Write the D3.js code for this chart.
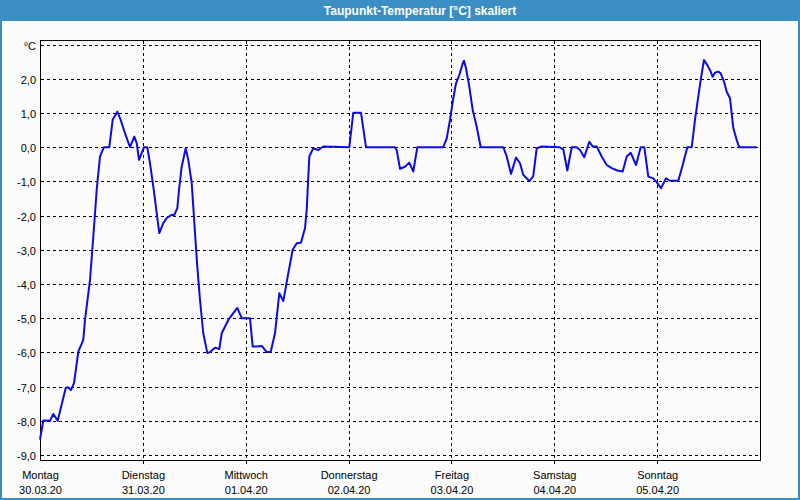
<!DOCTYPE html>
<html>
<head>
<meta charset="utf-8">
<script src="https://cdn.jsdelivr.net/npm/d3@7"></script>
<style>
  html, body { margin: 0; padding: 0; background: #fbfcfb; }
  svg { display: block; }
</style>
</head>
<body>
<svg id="chart" width="800" height="500"></svg>
<script>
// ---- data ----
const title = "Taupunkt-Temperatur [°C] skaliert";
const dayNames = ["Montag", "Dienstag", "Mittwoch", "Donnerstag", "Freitag", "Samstag", "Sonntag"];
const dayDates = ["30.03.20", "31.03.20", "01.04.20", "02.04.20", "03.04.20", "04.04.20", "05.04.20"];
const dayStartHours = [0, 24, 48, 72, 96, 120, 144];
const yTicks = [-9, -8, -7, -6, -5, -4, -3, -2, -1, 0, 1, 2, 3];
const unitLabel = "°C";
// time in hours since Monday 00:00
const hours = [0, 0.77, 2.33, 3.10, 4.13, 6.00, 6.53, 7.23, 7.93, 8.94, 10.10, 10.50, 11.67, 12.44, 13.23, 14.00, 14.93, 16.17, 16.96, 18.04, 18.83, 19.83, 21.00, 22.00, 22.56, 23.10, 24.27, 25.04, 25.67, 26.44, 27.23, 27.84, 28.77, 29.56, 30.73, 31.34, 32.04, 32.43, 33.06, 34.00, 34.60, 35.40, 36.17, 36.70, 37.33, 38.10, 39.04, 39.67, 40.83, 41.84, 42.40, 43.94, 45.10, 46.04, 47.06, 49.00, 49.63, 50.56, 51.73, 52.90, 53.83, 54.83, 55.84, 56.77, 57.94, 58.96, 59.90, 60.90, 61.83, 62.23, 62.84, 63.77, 64.94, 66.10, 72.17, 73.10, 74.90, 76.07, 82.83, 83.23, 84.00, 85.17, 86.17, 87.10, 88.04, 94.10, 94.90, 95.67, 96.30, 97.07, 97.84, 98.63, 98.93, 99.40, 100.17, 100.96, 101.90, 102.83, 108.10, 108.90, 109.90, 111.07, 112.00, 112.77, 113.94, 114.33, 115.10, 115.90, 117.06, 121.17, 122.10, 123.04, 124.06, 125.23, 126.00, 127.00, 128.17, 128.96, 129.90, 131.06, 132.23, 133.40, 134.70, 135.96, 136.90, 137.83, 139.07, 140.16, 141.00, 141.94, 143.10, 143.90, 144.90, 146.07, 147.00, 148.94, 149.96, 151.04, 152.07, 152.83, 153.60, 154.16, 154.93, 155.70, 156.33, 156.96, 157.50, 158.27, 158.83, 159.60, 160.23, 161.00, 161.77, 162.56, 163.17, 167.23];
const dewpoint = [-8.55, -7.99, -8.0, -7.8, -8.0, -7.04, -7.02, -7.1, -6.9, -5.98, -5.63, -5.05, -3.88, -2.61, -1.25, -0.27, 0.0, 0.0, 0.8, 1.04, 0.8, 0.41, 0.0, 0.31, 0.12, -0.37, 0.0, 0.0, -0.47, -1.15, -1.93, -2.51, -2.22, -2.07, -1.98, -1.98, -1.78, -1.25, -0.57, -0.03, -0.37, -1.05, -2.51, -3.49, -4.46, -5.44, -6.02, -5.99, -5.86, -5.9, -5.44, -5.05, -4.85, -4.7, -5.0, -5.0, -5.83, -5.83, -5.81, -5.99, -5.99, -5.44, -4.27, -4.5, -3.68, -3.0, -2.81, -2.79, -2.37, -1.83, -0.27, -0.03, -0.08, 0.02, 0.0, 1.01, 1.01, 0.0, 0.0, -0.08, -0.63, -0.57, -0.45, -0.71, 0.0, 0.0, 0.26, 0.8, 1.33, 1.87, 2.11, 2.45, 2.53, 2.31, 1.77, 1.09, 0.6, 0.0, 0.0, -0.27, -0.78, -0.3, -0.47, -0.81, -0.96, -0.98, -0.84, -0.03, 0.02, 0.0, -0.06, -0.68, 0.0, 0.0, -0.08, -0.29, 0.16, 0.02, 0.02, -0.27, -0.52, -0.61, -0.68, -0.71, -0.27, -0.16, -0.52, 0.0, 0.0, -0.86, -0.91, -1.02, -1.2, -0.91, -0.98, -0.98, -0.52, 0.0, 0.0, 0.8, 1.48, 1.97, 2.55, 2.4, 2.26, 2.06, 2.18, 2.21, 2.16, 1.92, 1.62, 1.43, 0.56, 0.21, 0.0, 0.0];

// ---- layout ----
const W = 800, H = 500;
const plot = { left: 40, right: 760, top: 40, bottom: 460 };
const frameBlue = "#3b8ec3";
const font = "'Liberation Sans', Arial, sans-serif";

const svg = d3.select("#chart");

// background + outer frame
svg.append("rect").attr("x", 0).attr("y", 0).attr("width", W).attr("height", H).attr("fill", "#fbfcfb");
svg.append("rect").attr("x", 1).attr("y", 1).attr("width", W - 2).attr("height", H - 2)
  .attr("fill", "none").attr("stroke", frameBlue).attr("stroke-width", 2);
svg.append("rect").attr("x", 0).attr("y", 0).attr("width", W).attr("height", 21).attr("fill", frameBlue);
svg.append("text").attr("x", 420).attr("y", 15).attr("text-anchor", "middle")
  .attr("fill", "#fff").attr("font-family", font).attr("font-weight", "bold").attr("font-size", "12px")
  .text(title);

// scales
const x = d3.scaleLinear().domain([0, 168]).range([plot.left, plot.right]);
const y = d3.scaleLinear().domain([-9.16, 3.135]).range([plot.bottom + 0.5, plot.top]);

// horizontal gridlines
svg.append("g").selectAll("line").data(yTicks).join("line")
  .attr("x1", plot.left + 1).attr("x2", plot.right - 1)
  .attr("y1", d => Math.round(y(d)) + 0.5).attr("y2", d => Math.round(y(d)) + 0.5)
  .attr("stroke", "#000").attr("stroke-width", 1).attr("stroke-dasharray", "3,3")
  .attr("shape-rendering", "crispEdges");

// vertical gridlines (day boundaries)
svg.append("g").selectAll("line").data(dayStartHours.slice(1)).join("line")
  .attr("x1", d => Math.round(x(d)) + 0.5).attr("x2", d => Math.round(x(d)) + 0.5)
  .attr("y1", plot.top + 1).attr("y2", plot.bottom + 6)
  .attr("stroke", "#000").attr("stroke-width", 1).attr("stroke-dasharray", "3,3")
  .attr("shape-rendering", "crispEdges");

// plot frame
svg.append("rect").attr("x", plot.left + 0.5).attr("y", plot.top + 0.5)
  .attr("width", plot.right - plot.left).attr("height", plot.bottom - plot.top)
  .attr("fill", "none").attr("stroke", "#000").attr("stroke-width", 1).attr("shape-rendering", "crispEdges");

// y axis labels
const yAxis = d3.axisLeft(y).tickValues(yTicks).tickSize(0).tickPadding(4)
  .tickFormat(d => d === 3 ? unitLabel : d.toFixed(1).replace(".", ","));
const gy = svg.append("g").attr("transform", `translate(${plot.left},0)`).call(yAxis);
gy.select(".domain").remove();
gy.selectAll("text").attr("font-family", font).attr("font-size", "11px").attr("fill", "#000").attr("dy", "0.4em");

// x axis labels (two lines)
const xAxis = d3.axisBottom(x).tickValues(dayStartHours).tickSize(0).tickFormat("");
const gx = svg.append("g").attr("transform", `translate(0,${plot.bottom})`).call(xAxis);
gx.select(".domain").remove();
gx.selectAll(".tick").each(function(d, i) {
  const t = d3.select(this).append("text")
    .attr("font-family", font).attr("font-size", "11px").attr("fill", "#000").attr("text-anchor", "middle");
  t.append("tspan").attr("x", 0).attr("y", 19).text(dayNames[i]);
  t.append("tspan").attr("x", 0).attr("y", 34).text(dayDates[i]);
});

// data line
const line = d3.line().x((d, i) => x(hours[i])).y(d => y(d));
svg.append("path").datum(dewpoint)
  .attr("d", line).attr("fill", "none").attr("stroke", "#0b0be8").attr("stroke-width", 2)
  .attr("stroke-linejoin", "round");
</script>
</body>
</html>
